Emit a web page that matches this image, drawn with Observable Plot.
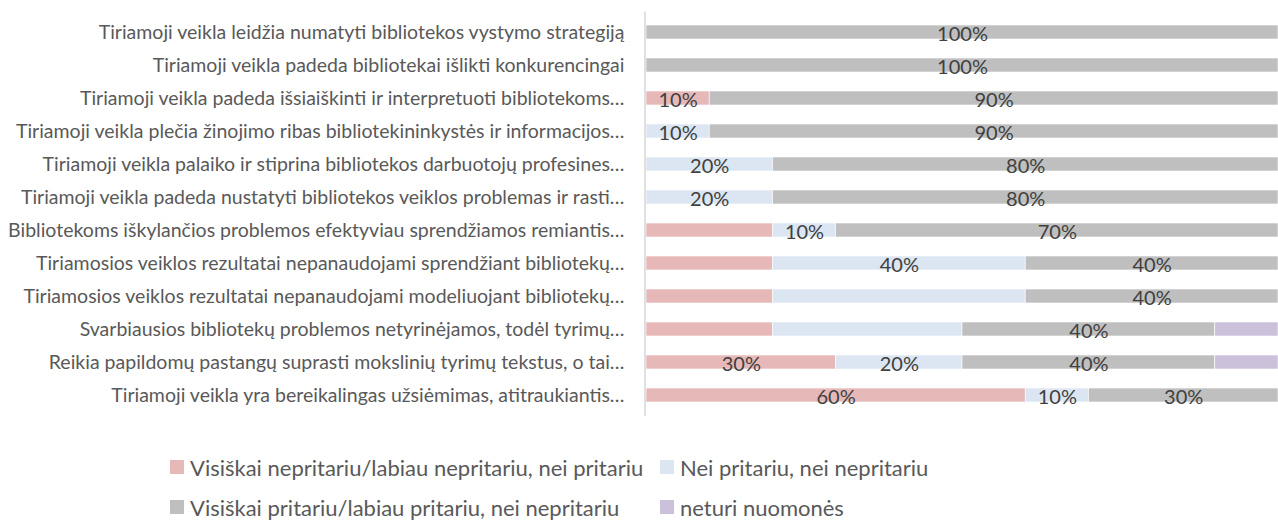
<!DOCTYPE html>
<html>
<head>
<meta charset="utf-8">
<script src="https://cdn.jsdelivr.net/npm/d3@7"></script>
<script src="https://cdn.jsdelivr.net/npm/@observablehq/plot@0.6"></script>
<style>
  html, body { margin: 0; padding: 0; background: #fff; }
  body { width: 1278px; height: 521px; overflow: hidden; font-family: Lato, "Open Sans", sans-serif; }
  #chart svg { display: block; }
  #legend {
    display: grid;
    grid-template-columns: 490px auto;
    row-gap: 16px;
    margin-left: 170px;
    margin-top: 35px;
    font-family: Lato, sans-serif;
    font-size: 22px;
    color: #595959;
  }
  .item { display: flex; align-items: center; height: 24px; white-space: nowrap; }
  .sw { width: 14px; height: 14px; margin-right: 6px; flex: none; }
</style>
</head>
<body>
<div id="chart"></div>
<div id="legend"></div>
<script>
const categories = [
  "Tiriamoji veikla leidžia numatyti bibliotekos vystymo strategiją",
  "Tiriamoji veikla padeda bibliotekai išlikti konkurencingai",
  "Tiriamoji veikla padeda išsiaiškinti ir interpretuoti bibliotekoms…",
  "Tiriamoji veikla plečia žinojimo ribas bibliotekininkystės ir informacijos…",
  "Tiriamoji veikla palaiko ir stiprina bibliotekos darbuotojų profesines…",
  "Tiriamoji veikla padeda nustatyti bibliotekos veiklos problemas ir rasti…",
  "Bibliotekoms iškylančios problemos efektyviau sprendžiamos remiantis…",
  "Tiriamosios veiklos rezultatai nepanaudojami sprendžiant bibliotekų…",
  "Tiriamosios veiklos rezultatai nepanaudojami modeliuojant bibliotekų…",
  "Svarbiausios bibliotekų problemos netyrinėjamos, todėl tyrimų…",
  "Reikia papildomų pastangų suprasti mokslinių tyrimų tekstus, o tai…",
  "Tiriamoji veikla yra bereikalingas užsiėmimas, atitraukiantis…"
];

const seriesNames = [
  "Visiškai nepritariu/labiau nepritariu, nei pritariu",
  "Nei pritariu, nei nepritariu",
  "Visiškai pritariu/labiau pritariu, nei nepritariu",
  "neturi nuomonės"
];
const seriesColors = ["#e6b9b8", "#dce6f2", "#bfbfbf", "#ccc1da"];

const disagree  = [0, 0, 10, 0, 0, 0, 20, 20, 20, 20, 30, 60];
const neutral   = [0, 0, 0, 10, 20, 20, 10, 40, 40, 30, 20, 10];
const agree     = [100, 100, 90, 90, 80, 80, 70, 40, 40, 40, 40, 30];
const noOpinion = [0, 0, 0, 0, 0, 0, 0, 0, 0, 10, 10, 0];

// whether the data label is displayed in the original, per series
const labelDisagree  = [0, 0, 1, 0, 0, 0, 0, 0, 0, 0, 1, 1];
const labelNeutral   = [0, 0, 0, 1, 1, 1, 1, 1, 0, 0, 1, 1];
const labelAgree     = [1, 1, 1, 1, 1, 1, 1, 1, 1, 1, 1, 1];
const labelNoOpinion = [0, 0, 0, 0, 0, 0, 0, 0, 0, 0, 0, 0];

const seriesValues = [disagree, neutral, agree, noOpinion];
const seriesLabels = [labelDisagree, labelNeutral, labelAgree, labelNoOpinion];

const data = [];
categories.forEach((c, i) => {
  seriesNames.forEach((s, j) => {
    data.push({category: c, series: s, value: seriesValues[j][i], show: seriesLabels[j][i] === 1 && seriesValues[j][i] > 0});
  });
});

const chart = Plot.plot({
  width: 1278,
  height: 420,
  marginLeft: 646,
  marginRight: 0,
  marginTop: 11.5,
  marginBottom: 4,
  style: {fontFamily: "Lato, sans-serif", background: "#fff"},
  x: {domain: [0, 100], axis: null},
  y: {domain: categories, paddingInner: 0.585, paddingOuter: 0.2925, label: null},
  color: {domain: seriesNames, range: seriesColors},
  marks: [
    Plot.barX(data, Plot.stackX({x: "value", y: "category", fill: "series", stroke: "#fff", strokeWidth: 0.6})),
    Plot.text(data, Plot.stackX({
      x: "value", y: "category",
      text: d => d.show ? d.value + "%" : "",
      fill: "#404040", fontSize: 20, dy: 2
    })),
    Plot.ruleX([0], {stroke: "#d9d9d9", strokeWidth: 1.6, dx: -1.5}),
    Plot.axisY({tickSize: 0, tickPadding: 22, fontSize: 19.5, color: "#595959", label: null})
  ]
});
document.getElementById("chart").appendChild(chart);

const legend = document.getElementById("legend");
seriesNames.forEach((s, j) => {
  const it = document.createElement("div");
  it.className = "item";
  const sw = document.createElement("span");
  sw.className = "sw";
  sw.style.background = seriesColors[j];
  const tx = document.createElement("span");
  tx.textContent = s;
  it.appendChild(sw);
  it.appendChild(tx);
  legend.appendChild(it);
});
</script>
</body>
</html>
